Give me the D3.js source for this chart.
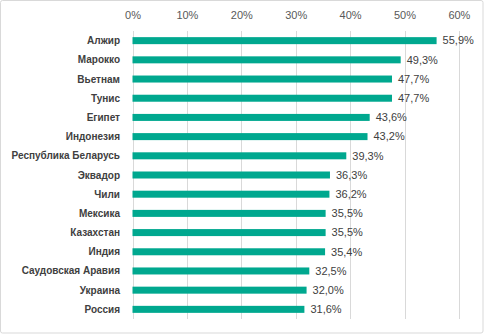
<!DOCTYPE html>
<html>
<head>
<meta charset="utf-8">
<script src="https://cdn.jsdelivr.net/npm/d3@7"></script>
<style>
  html, body { margin: 0; padding: 0; background: #fff; }
  svg { display: block; }
</style>
</head>
<body>
<svg id="chart" width="484" height="334"></svg>
<script>
const countries = ["Алжир", "Марокко", "Вьетнам", "Тунис", "Египет", "Индонезия",
  "Республика Беларусь", "Эквадор", "Чили", "Мексика", "Казахстан", "Индия",
  "Саудовская Аравия", "Украина", "Россия"];
const shares = [55.9, 49.3, 47.7, 47.7, 43.6, 43.2, 39.3, 36.3, 36.2, 35.5, 35.5, 35.4, 32.5, 32.0, 31.6];
const tickValues = [0, 10, 20, 30, 40, 50, 60];

const svg = d3.select("#chart");
const W = 484, H = 334;
const margin = { top: 31, right: 25, bottom: 15, left: 132.5 };

// outer frame
svg.append("rect")
  .attr("x", 0.5).attr("y", 0.5)
  .attr("width", W - 1.5).attr("height", H - 1.5)
  .attr("rx", 2)
  .attr("fill", "#fff").attr("stroke", "#d9d9d9");

const x = d3.scaleLinear().domain([0, 60]).range([margin.left, margin.left + 326.4]);
const y = d3.scaleBand().domain(countries).range([margin.top, H - margin.bottom]).paddingInner(0.635).paddingOuter(0.32);

const font = "Liberation Sans, Arial, sans-serif";
const fmt = v => d3.format(".1f")(v).replace(".", ",") + "%";

// gridlines + top axis
const axis = d3.axisTop(x).tickValues(tickValues).tickSize(-(H - margin.bottom - margin.top)).tickFormat(d => d + "%").tickPadding(12);
const gAxis = svg.append("g").attr("transform", `translate(0,${margin.top})`).call(axis);
gAxis.select(".domain").remove();
gAxis.selectAll(".tick line").attr("stroke", "#d9d9d9").attr("shape-rendering", "crispEdges");
gAxis.selectAll(".tick text").attr("fill", "#595959").attr("font-family", font).attr("font-size", "11px");

// bars
svg.append("g").selectAll("rect").data(countries).join("rect")
  .attr("x", x(0))
  .attr("y", d => y(d))
  .attr("width", (d, i) => x(shares[i]) - x(0))
  .attr("height", y.bandwidth())
  .attr("fill", "#00a88f");

// category labels
svg.append("g").selectAll("text").data(countries).join("text")
  .attr("x", 120)
  .attr("y", d => y(d) + y.bandwidth() / 2)
  .attr("dy", "0.35em")
  .attr("text-anchor", "end")
  .attr("font-family", font).attr("font-size", "10px").attr("font-weight", "bold")
  .attr("fill", "#404040")
  .text(d => d);

// value labels
svg.append("g").selectAll("text").data(countries).join("text")
  .attr("x", (d, i) => x(shares[i]) + 6)
  .attr("y", d => y(d) + y.bandwidth() / 2)
  .attr("dy", "0.35em")
  .attr("font-family", font).attr("font-size", "11px")
  .attr("fill", "#404040")
  .text((d, i) => fmt(shares[i]));
</script>
</body>
</html>
